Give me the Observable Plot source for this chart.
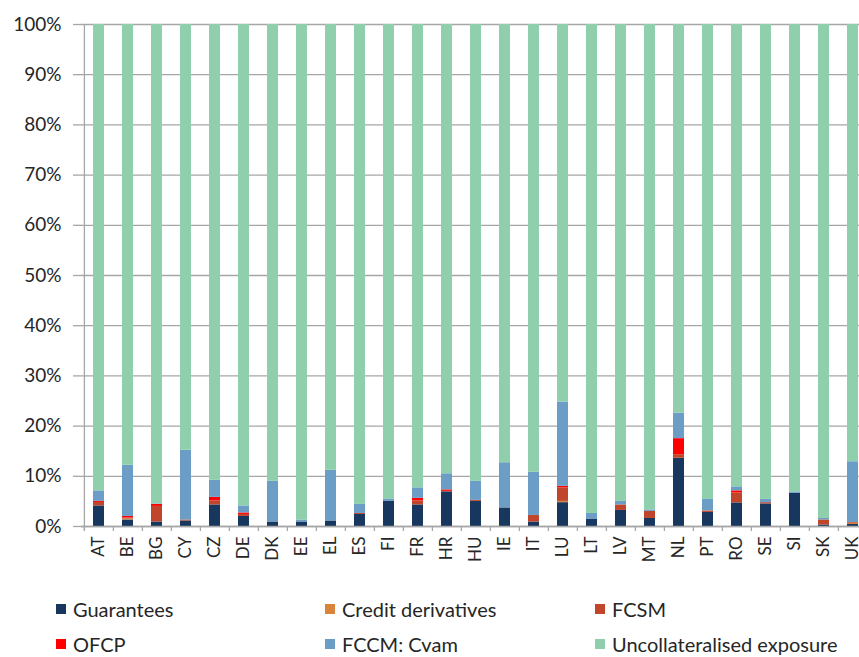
<!DOCTYPE html>
<html><head><meta charset="utf-8">
<script src="https://cdn.jsdelivr.net/npm/d3@7"></script>
<script src="https://cdn.jsdelivr.net/npm/@observablehq/plot@0.6"></script>
<style>
html,body{margin:0;padding:0;background:#fff;overflow:hidden;}
#wrap{position:relative;width:859px;height:657px;overflow:hidden;font-family:Lato,"Open Sans",sans-serif;color:#262626;}
#chart{position:absolute;left:0;top:0;width:870px;}
#chart svg{max-width:none !important;}
.lg{position:absolute;display:flex;align-items:center;font-size:20px;line-height:16px;height:16px;white-space:nowrap;}
.sw{width:10px;height:10px;margin-right:7px;flex:none;}
</style></head><body>
<div id="wrap"><div id="chart"></div><div id="legend"></div></div>
<script>
const countries = ["AT","BE","BG","CY","CZ","DE","DK","EE","EL","ES","FI","FR","HR","HU","IE","IT","LU","LT","LV","MT","NL","PT","RO","SE","SI","SK","UK"];
const seriesNames = ["Guarantees","Credit derivatives","FCSM","OFCP","FCCM: Cvam","Uncollateralised exposure"];
const seriesColors = ["#17375e","#d9843b","#c0452a","#ff0000","#6c9dc6","#8fcfac"];
// values in % of exposure
const guarantees      = [4.1,1.3,0.9,1.1,4.3,2.0,0.9,0.9,1.1,2.4,5.0,4.3,6.9,5.0,3.7,0.9,4.75,1.4,3.2,1.6,13.6,2.8,4.7,4.5,6.6,0.3,0.4];
const creditDeriv     = [0,0.2,0,0,0,0,0,0,0,0,0,0,0,0,0,0,0.25,0,0,0,0,0,0,0,0,0,0.25];
const fcsm            = [0.7,0.2,3.1,0.2,0.8,0.4,0,0,0,0.2,0,0.8,0.1,0.2,0,1.3,2.7,0,1.1,1.4,0.7,0.3,2.0,0.25,0,1.0,0.15];
const ofcp            = [0.2,0.3,0.4,0,0.7,0.3,0,0,0,0,0,0.5,0.3,0,0,0,0.3,0,0,0,3.2,0,0.4,0,0,0,0];
const fccmCvam        = [2.1,10.2,0.1,13.9,3.4,1.4,8.1,0.4,10.1,1.8,0.4,2.1,3.2,3.8,9.0,8.6,16.8,1.2,0.7,0.3,5.1,2.3,0.8,0.65,0.3,0.3,12.1];
const uncollateralised= [92.9,87.8,95.5,84.8,90.8,95.9,91.0,98.7,88.8,95.6,94.6,92.3,89.5,91.0,87.3,89.2,75.2,97.4,95.0,96.7,77.4,94.6,92.1,94.6,93.1,98.4,87.1];
const yTicks = [0,10,20,30,40,50,60,70,80,90,100];

const seriesValues = [guarantees, creditDeriv, fcsm, ofcp, fccmCvam, uncollateralised];
const rows = [];
countries.forEach((c, i) => seriesNames.forEach((s, j) => rows.push({country: c, series: s, value: seriesValues[j][i]})));

const W = 870, H = 585, mL = 81, mR = 0, mT = 24, mB = 59;
const step = (W - mL - mR) / countries.length;
const grid = "#a6a6a6";

const chart = Plot.plot({
  width: W, height: H,
  marginLeft: mL, marginRight: mR, marginTop: mT, marginBottom: mB,
  style: {fontFamily: "Lato, 'Open Sans', sans-serif", color: "#262626", background: "#fff", overflow: "visible", maxWidth: "none"},
  x: {domain: countries, paddingInner: 0.61, paddingOuter: 0.305, label: null},
  y: {domain: [0, 100], label: null},
  color: {domain: seriesNames, range: seriesColors},
  marks: [
    Plot.gridY(yTicks, {stroke: grid, strokeOpacity: 1, strokeWidth: 1.3}),
    Plot.axisY({ticks: yTicks, tickFormat: d => d + "%", tickSize: 8, tickPadding: 12, stroke: grid, strokeWidth: 1.3, fill: "#262626", fontSize: 19, label: null}),
    Plot.barY(rows, {x: "country", y: "value", z: "series", fill: "series", order: seriesNames}),
    Plot.ruleY([0], {stroke: grid, strokeWidth: 1.3}),
    Plot.ruleX(countries, {x: d => d, dx: -step / 2, y1: 0, y2: -1, stroke: grid, strokeWidth: 1.3}),
    Plot.ruleX([countries[0]], {x: d => d, dx: -step / 2, y1: -1, y2: 100, stroke: grid, strokeWidth: 1.3}),
    Plot.axisX({tickSize: 0, tickPadding: 10, tickRotate: -90, fontSize: 17, fill: "#262626", label: null})
  ]
});
chart.style.maxWidth = "none";
chart.style.width = W + "px";
chart.style.height = H + "px";
document.getElementById("chart").appendChild(chart);

// legend (2 rows x 3 columns)
const legend = document.getElementById("legend");
const colX = [56, 325, 595], rowY = [609, 644];
seriesNames.forEach((s, i) => {
  const el = document.createElement("div");
  el.className = "lg";
  el.style.left = colX[i % 3] + "px";
  el.style.top = (rowY[Math.floor(i / 3)] - 8) + "px";
  el.innerHTML = `<span class="sw" style="background:${seriesColors[i]}"></span><span>${s}</span>`;
  legend.appendChild(el);
});
</script>
</body></html>
